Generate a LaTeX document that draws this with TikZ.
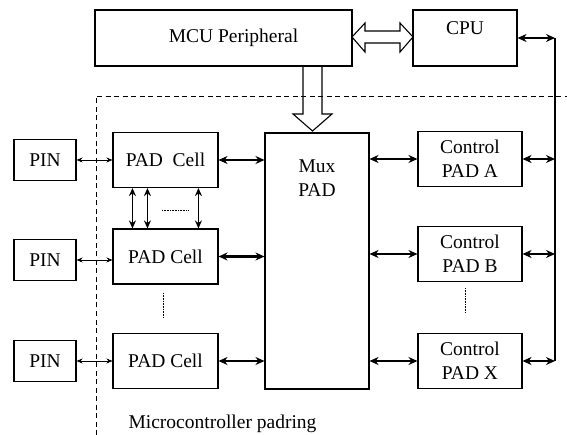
\documentclass[tikz,border=0pt]{standalone}
\usepackage{fontspec}
\setmainfont{Liberation Serif}
\usetikzlibrary{arrows.meta,calc}
\begin{document}
\begin{tikzpicture}[x=1pt,y=-1pt,
  txt/.style={font=\fontsize{19.5}{24}\selectfont},
  box/.style={draw,line width=1.1pt,inner sep=0pt,align=center,txt},
  pinbox/.style={box,minimum width=62pt,minimum height=41pt},
  padbox/.style={box,minimum width=105pt,minimum height=55pt},
  ctlbox/.style={box,minimum width=104pt,minimum height=55pt},
  bi/.style={line width=2.2pt,{Stealth[length=9pt,width=8pt]}-{Stealth[length=9pt,width=8pt]}},
  vbi/.style={line width=1.8pt,{Stealth[length=8pt,width=7pt]}-{Stealth[length=8pt,width=7pt]}},
  pinarr/.style={line width=0.9pt,{Stealth[length=6pt,width=5pt]}-{Stealth[length=6pt,width=5pt]}},
  hollow/.style={draw,line width=1.1pt,line join=miter},
  border/.style={line width=0.9pt,dash pattern=on 5pt off 3.5pt},
  dots/.style={line width=0.6pt,dash pattern=on 0.8pt off 0.8pt}]
\useasboundingbox (0,0) rectangle (567,435);

% top blocks
\node[box,minimum width=257pt,minimum height=56pt] (mcu) at (223.5,38) {};
\node[txt,anchor=center] (mcutxt) at ([xshift=10pt]mcu.center) {MCU Peripheral};
\node[box,minimum width=104pt,minimum height=56pt] (cpu) at (465,38) {};
\node[txt,anchor=base] (cputxt) at ([yshift=-25pt]cpu.north) {CPU};

% padring boundary
\draw[border] (96,435) -- (96,96) -- (567,96);

% hollow arrows
\draw[hollow] (352,37) -- (365,23) -- (365,31) -- (400,31) -- (400,23) -- (413,37)
  -- (400,52) -- (400,43) -- (365,43) -- (365,52) -- cycle;
\draw[hollow] (303,66) -- (303,114) -- (293,114) -- (312.5,131) -- (332,114)
  -- (322,114) -- (322,66);

% left column
\node[pinbox] (pin1) at (45,160) {PIN};
\node[pinbox] (pin2) at (45,260) {PIN};
\node[pinbox] (pin3) at (45,361) {PIN};
\node[padbox] (pad1) at (165.5,160) {PAD\ \ Cell};
\node[padbox] (pad2) at (165.5,256.5) {PAD Cell};
\node[padbox] (pad3) at (165.5,361) {PAD Cell};

% mux
\node[box,minimum width=104pt,minimum height=256pt] (mux) at (317,261) {};
\node[txt,align=center,anchor=base] (muxtxt) at ([yshift=-64pt]mux.north) {Mux\\PAD};

% control pads
\node[ctlbox] (cA) at (470,159) {Control\\PAD A};
\node[ctlbox] (cB) at (470,254) {Control\\PAD B};
\node[ctlbox] (cX) at (470,361) {Control\\PAD X};

% bus
\coordinate (busT) at (555,38);
\coordinate (busB) at (555,361);
\draw[line width=2.4pt] (busT) -- (busB);

% connectors
\draw[bi] (cpu.east) -- (cpu.east -| busT);
\foreach \c in {cA,cB,cX}{
  \draw[bi] (\c.east) -- (\c.east -| busT);
  \draw[bi] (mux.east |- \c.west) -- (\c.west);
}
\foreach \p in {pad1,pad2,pad3}{
  \draw[bi] (\p.east) -- (\p.east -| mux.west);
}
\draw[pinarr] (pin1.east) -- (pin1.east -| pad1.west);
\draw[pinarr] (pin2.east) -- (pin2.east -| pad2.west);
\draw[pinarr] (pin3.east) -- (pin3.east -| pad3.west);

\foreach \dx in {20,35,86}{
  \draw[vbi] ([xshift=\dx pt]pad1.south west) -- ([xshift=\dx pt]pad2.north west);
}

% ellipsis dots
\draw[dots] (162,210) -- (188,210);
\draw[dots] (163,293) -- (163,318);
\draw[dots] (465,288) -- (465,313);

\node[txt,anchor=base west] (lbl) at (125,428) {Microcontroller padring};
\end{tikzpicture}
\end{document}
